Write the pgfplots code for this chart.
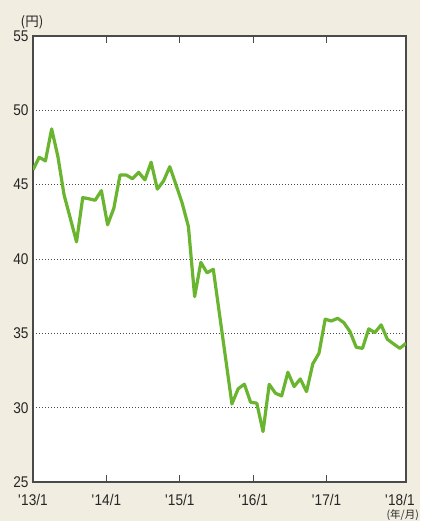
\documentclass[border=0pt]{standalone}
\usepackage{pgfplots}
\pgfplotsset{compat=1.18}
\usepackage{fontspec}
\setmainfont{Liberation Sans}[FakeStretch=0.88]
\newfontfamily\cjk{Noto Sans CJK JP}
\definecolor{bg}{HTML}{F1EEE1}
\definecolor{lg}{HTML}{6AB52F}
\definecolor{ax}{HTML}{4A4A4A}
\begin{document}
\begin{tikzpicture}
\fill[bg] (0,0) rectangle (420pt,521pt);
\useasboundingbox (0,0) rectangle (420pt,521pt);
\begin{axis}[
  at={(33pt,39pt)}, anchor=south west,
  width=373pt, height=446pt, scale only axis,
  xmin=0, xmax=60, ymin=25, ymax=55,
  axis background/.style={fill=white},
  axis line style={draw=ax, line width=1.3pt},
  ytick={30,35,...,50},
  extra y ticks={25,55},
  extra y tick style={grid=none},
  ytick style={draw=none},
  ymajorgrids,
  grid style={draw=ax, line width=0.9pt, dash pattern=on 0.9pt off 2.1pt},
  xtick={0,11.803,23.607,35.410,47.213},
  xticklabels={\textquotesingle13/1,\textquotesingle14/1,\textquotesingle15/1,\textquotesingle16/1,\textquotesingle17/1},
  extra x ticks={59.016},
  extra x tick labels={\textquotesingle18/1},
  extra x tick style={xtick style={draw=none}},
  xtick style={draw=ax, line width=1pt},
  tick align=inside, major tick length=7pt,
  tick label style={font=\fontsize{15.5}{15.5}\selectfont, text=black!85},
  /pgf/number format/assume math mode=true,
  xticklabel style={yshift=-9pt},
  yticklabel style={xshift=-1pt},
]
\addplot[lg, line width=3.2pt, line join=round] coordinates {
(0,46.0) (1,46.84) (2,46.6) (3,48.75) (4,46.9) (5,44.31) (6,42.74) (7,41.15)
(8,44.13) (9,44.05) (10,43.95) (11,44.6) (12,42.3) (13,43.41) (14,45.65) (15,45.65)
(16,45.4) (17,45.83) (18,45.32) (19,46.51) (20,44.7) (21,45.25) (22,46.21) (23,45.0)
(24,43.75) (25,42.18) (26,37.47) (27,39.77) (28,39.07) (29,39.31) (30,36.29) (31,33.27)
(32,30.25) (33,31.27) (34,31.58) (35,30.37) (36,30.3) (37,28.39) (38,31.57) (39,30.97)
(40,30.79) (41,32.38) (42,31.42) (43,31.93) (44,31.08) (45,32.94) (46,33.66) (47,35.95)
(48,35.83) (49,36.01) (50,35.72) (51,35.11) (52,34.06) (53,33.99) (54,35.3) (55,35.05)
(56,35.57) (57,34.6) (58,34.29) (59,33.99) (60,34.33)
};
\end{axis}
\node[anchor=south east, inner sep=0pt, text=black!85] at (419pt,0.5pt) {\cjk\fontsize{10.5}{10.5}\selectfont (年/月)};
\node[anchor=center, inner sep=0pt, text=black!85] at (32pt,499pt) {\cjk\fontsize{13.5}{13.5}\selectfont (円)};
\end{tikzpicture}
\end{document}
